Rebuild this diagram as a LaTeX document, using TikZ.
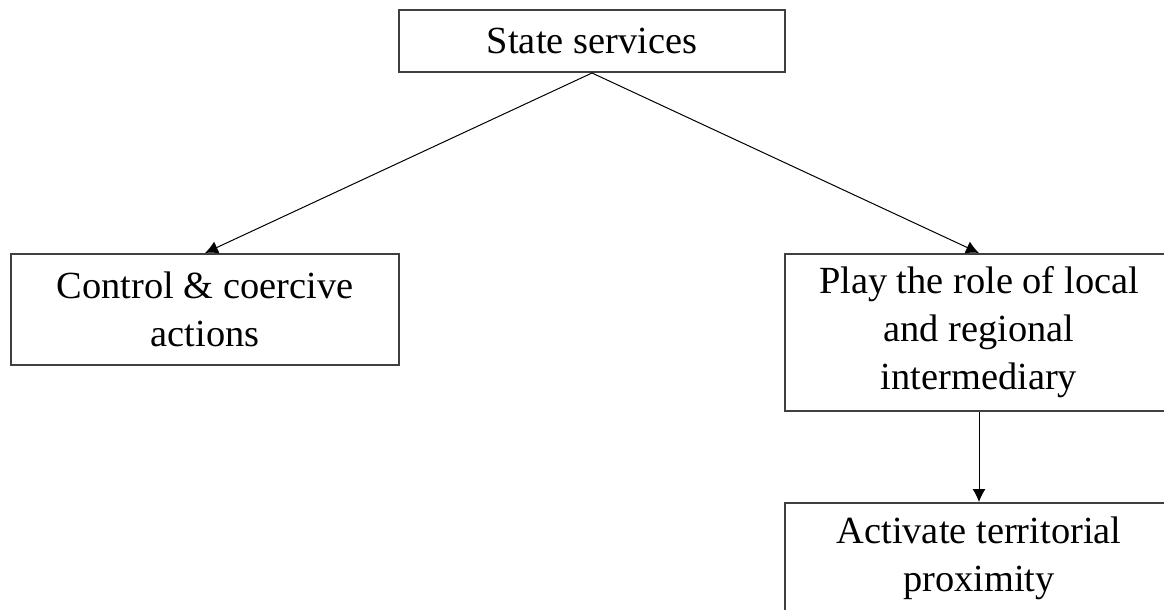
\documentclass[tikz,border=0pt]{standalone}
\usepackage{fontspec}
\setmainfont{Liberation Serif}
\usetikzlibrary{arrows.meta,positioning}
\definecolor{boxgray}{rgb}{0.25,0.25,0.25}
\tikzset{
  stepbox/.style={draw=boxgray, line width=1pt, align=center, inner sep=0pt,
    font=\fontsize{19.2}{24}\selectfont},
  link/.style={-{Latex[length=6.5pt,width=6.5pt]}, line width=0.5pt}
}
\begin{document}
\begin{tikzpicture}[x=0.5pt,y=-0.5pt]
        \useasboundingbox (0,0) rectangle (1164,610);
        % Draw the boxes
        \node[stepbox, minimum width=193pt, minimum height=31pt] (state) at (592,41) {State services};
        \node[stepbox, minimum width=194pt, minimum height=55.5pt] (control) at (205,309.5) {Control \& coercive\\actions};
        \node[stepbox, minimum width=194pt, minimum height=78.5pt] (role) at (979,332.5) {Play the role of local\\and regional\\intermediary};
        \node[stepbox, minimum width=194pt, minimum height=55.5pt] (activate) at (979,558.5) {Activate territorial\\proximity};
        % arrows
        \draw[link] (state.south) -- (control.north);
        \draw[link] (state.south) -- (role.north);
        \draw[link] (role.south) -- (activate.north);
\end{tikzpicture}
\end{document}
